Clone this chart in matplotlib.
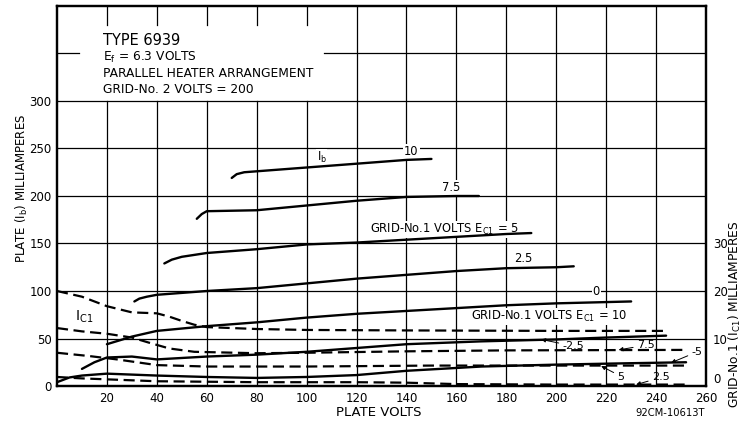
import matplotlib
matplotlib.use("Agg")
import matplotlib.pyplot as plt

plt.rcParams["font.family"] = ["DejaVu Sans"]
plt.rcParams["mathtext.default"] = "regular"

# plate current Ib (mA, left scale) against plate volts, one curve per grid-No.1 volts
ib_10_volts = [70, 72, 75, 80, 100, 120, 140, 150]
ib_10_ma = [219, 223, 225, 226, 230, 234, 238, 239]

ib_7_5_volts = [56, 58, 60, 80, 100, 120, 140, 160, 169]
ib_7_5_ma = [176, 181, 184, 185, 190, 195, 199, 200, 200]

ib_5_volts = [43, 46, 50, 60, 80, 100, 120, 140, 160, 180, 190]
ib_5_ma = [129, 133, 136, 140, 144, 149, 151, 154, 157, 160, 161]

ib_2_5_volts = [31, 33, 36, 40, 50, 60, 80, 100, 120, 140, 160, 180, 200, 207]
ib_2_5_ma = [89, 92, 94, 96, 98, 100, 103, 108, 113, 117, 121, 124, 125, 126]

ib_0_volts = [20, 25, 30, 40, 60, 80, 100, 120, 140, 160, 180, 200, 230]
ib_0_ma = [44, 48, 52, 58, 63, 67, 72, 76, 79, 82, 85, 87, 89]

ib_m2_5_volts = [10, 15, 20, 30, 40, 60, 80, 100, 120, 140, 170, 200, 220, 244]
ib_m2_5_ma = [18, 25, 30, 31, 28, 31, 33, 36, 40, 44, 47, 49, 51, 53]

ib_m5_volts = [0, 5, 10, 20, 40, 60, 80, 100, 120, 140, 170, 200, 230, 252]
ib_m5_ma = [4, 9, 11, 13, 11, 9.5, 8.5, 9.5, 11.5, 16, 20.5, 22.5, 24, 25]

# grid-No.1 current Ic1 (mA, right scale)
ic_10_volts = [0, 10, 20, 30, 40, 45, 50, 55, 60, 80, 100, 140, 200, 244]
ic_10_ma = [20, 18.8, 16.8, 15.5, 15.3, 14.6, 13.7, 12.9, 12.4, 12, 11.8, 11.7, 11.6, 11.6]

ic_7_5_volts = [0, 10, 20, 30, 37, 45, 55, 80, 100, 140, 180, 252]
ic_7_5_ma = [12.2, 11.5, 11, 10.2, 9.1, 7.9, 7.2, 6.9, 7, 7.3, 7.5, 7.6]

ic_5_volts = [0, 13, 24, 40, 60, 100, 150, 200, 252]
ic_5_ma = [7, 6.3, 5.6, 4.4, 4.1, 4.1, 4.3, 4.3, 4.3]

ic_2_5_volts = [0, 10, 20, 40, 60, 80, 120, 140, 160, 200, 252]
ic_2_5_ma = [1.9, 1.6, 1.4, 1.0, 0.9, 0.8, 0.8, 0.7, 0.4, 0.3, 0.3]

x_ticks = [20, 40, 60, 80, 100, 120, 140, 160, 180, 200, 220, 240, 260]
y_ticks = [0, 50, 100, 150, 200, 250, 300]
y2_ticks = [0, 10, 20, 30]

header_lines = ["E$_f$ = 6.3 VOLTS", "PARALLEL HEATER ARRANGEMENT", "GRID-No. 2 VOLTS = 200"]

fig = plt.figure(figsize=(7.45, 4.22), dpi=100)
ax = fig.add_axes([0.0765, 0.0853, 0.8712, 0.9005])
ax.set_xlim(0, 260)
ax.set_ylim(0, 400)

grid_kw = dict(color="black", lw=0.9, zorder=1)
# vertical grid, left part is cut away behind the type box
for v in range(20, 260, 20):
    if v <= 100:
        ax.axvline(v, ymin=0, ymax=300 / 400, **grid_kw)
        ax.axvline(v, ymin=380 / 400, ymax=1, **grid_kw)
    else:
        ax.axvline(v, **grid_kw)
for m in range(50, 350, 50):
    ax.axhline(m, **grid_kw)
ax.axhline(350, xmin=0, xmax=9 / 260, **grid_kw)
ax.axhline(350, xmin=107 / 260, xmax=1, **grid_kw)

for sp in ax.spines.values():
    sp.set_linewidth(1.6)

ax.set_xticks(x_ticks)
ax.set_yticks(y_ticks)
ax.tick_params(length=0, labelsize=8.5, pad=4)

ib_curves = [(ib_10_volts, ib_10_ma), (ib_7_5_volts, ib_7_5_ma), (ib_5_volts, ib_5_ma),
             (ib_2_5_volts, ib_2_5_ma), (ib_0_volts, ib_0_ma), (ib_m2_5_volts, ib_m2_5_ma),
             (ib_m5_volts, ib_m5_ma)]
for v, ma in ib_curves:
    ax.plot(v, ma, color="black", lw=1.7, solid_capstyle="round", zorder=4)

ax2 = ax.twinx()
ax2.set_ylim(0, 80)
ax2.set_yticks(y2_ticks)
ax2.tick_params(length=0, labelsize=8.5, pad=5)
for sp in ax2.spines.values():
    sp.set_linewidth(1.6)
# lift the right-hand zero so it clears the 260 below it
ax2.get_yticklabels()[0].set_va("bottom")

ic_curves = [(ic_10_volts, ic_10_ma), (ic_7_5_volts, ic_7_5_ma),
             (ic_5_volts, ic_5_ma), (ic_2_5_volts, ic_2_5_ma)]
for v, ma in ic_curves:
    ax2.plot(v, ma, color="black", lw=1.6, dashes=(5, 2.5), zorder=4)

# type box
ax.text(18.5, 364, "TYPE 6939", fontsize=10.5, ha="left", va="center")
for i, line in enumerate(header_lines):
    ax.text(18.5, 346 - 16.8 * i, line, fontsize=8.8, ha="left", va="center")

gap = dict(facecolor="white", edgecolor="none", pad=0.6)
lab = dict(fontsize=8.3, ha="center", va="center", zorder=3, bbox=gap)
ax.text(106, 241, "I$_b$", **lab)
ax.text(142, 247, "10", **lab)
ax.text(158, 209, "7.5", **lab)
ax.text(155, 165, "GRID-No.1 VOLTS E$_{C1}$ = 5", **lab)
ax.text(187, 134, "2.5", **lab)
ax.text(216, 100, "0", **lab)
ax.text(197, 73, "GRID-No.1 VOLTS E$_{C1}$ = 10", **lab)
ax.text(11, 73, "I$_{C1}$", fontsize=10, ha="center", va="center", zorder=3)

arrow = dict(arrowstyle="-|>", color="black", lw=0.7, mutation_scale=6, shrinkA=1, shrinkB=0)
pointers = [("-2.5", (194, 49), (207, 42)), ("7.5", (225, 38), (236, 43)),
            ("-5", (246, 24.5), (256.5, 36)), ("5", (218, 21), (226, 10)),
            ("2.5", (232, 1.5), (242, 9))]
for txt, tip, pos in pointers:
    ax.annotate(txt, xy=tip, xytext=pos, fontsize=8, ha="center", va="center",
                zorder=5, arrowprops=arrow)

fig.text(22 / 745, 1 - 188 / 422, "PLATE (I$_b$) MILLIAMPERES", rotation=90,
         ha="center", va="center", fontsize=8.5)
fig.text(735 / 745, 1 - 314 / 422, "GRID-No.1 (I$_{C1}$) MILLIAMPERES", rotation=90,
         ha="center", va="center", fontsize=8.8)
fig.text(379 / 745, 1 - 412 / 422, "PLATE VOLTS", ha="center", va="center", fontsize=9.5)
fig.text(670 / 745, 1 - 413 / 422, "92CM-10613T", ha="center", va="center", fontsize=7.2)

fig.savefig("out.png", dpi=100)
